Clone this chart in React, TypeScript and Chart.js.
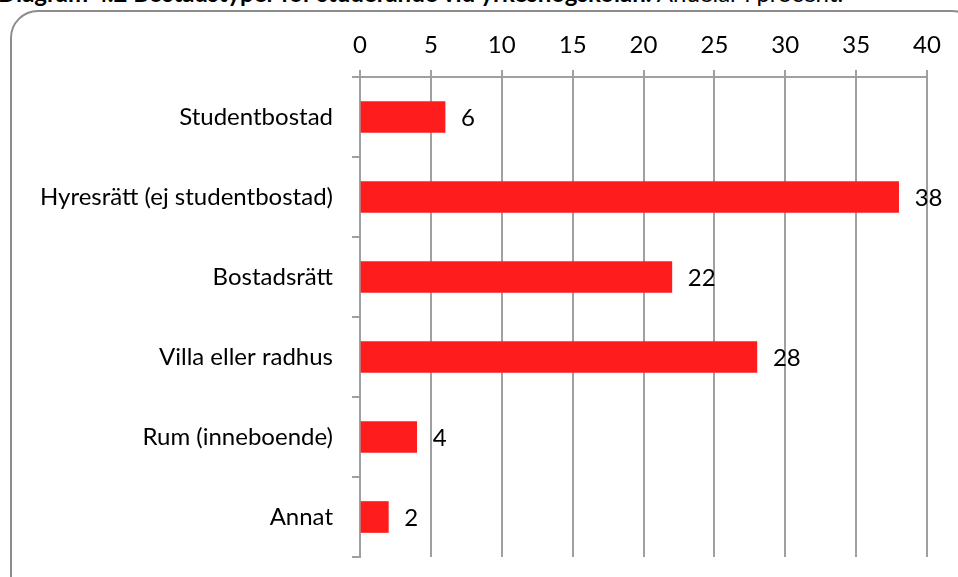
import React, { useEffect, useRef } from "react";
import { Chart, registerables } from "chart.js";

Chart.register(...registerables);

const categories = [
  "Studentbostad",
  "Hyresrätt (ej studentbostad)",
  "Bostadsrätt",
  "Villa eller radhus",
  "Rum (inneboende)",
  "Annat",
];
const values = [6, 38, 22, 28, 4, 2];
const xMin = 0;
const xMax = 40;
const xStep = 5;

const FONT = "Lato";
const FSIZE = 24;
const BAR = "#FF1C1C";
const GRID = "#a0a0a0";

const valueLabels = {
  id: "valueLabels",
  afterDatasetsDraw(chart: any) {
    const ctx = chart.ctx;
    const meta = chart.getDatasetMeta(0);
    ctx.save();
    ctx.font = `${FSIZE}px ${FONT}`;
    ctx.fillStyle = "#000";
    ctx.textAlign = "left";
    ctx.textBaseline = "middle";
    meta.data.forEach((el: any, i: number) => {
      ctx.fillText(String(values[i]), el.x + 16, el.y + 1);
    });
    ctx.restore();
  },
};

export default function App() {
  const ref = useRef<HTMLCanvasElement | null>(null);
  useEffect(() => {
    if (!ref.current) return;
    const chart = new Chart(ref.current, {
      type: "bar",
      data: {
        labels: categories,
        datasets: [
          {
            data: values,
            backgroundColor: BAR,
            borderWidth: 0,
            barThickness: 31,
          },
        ],
      },
      options: {
        indexAxis: "y",
        animation: false,
        responsive: false,
        maintainAspectRatio: false,
        layout: { padding: { left: 0, top: 0, right: 31, bottom: 20 } },
        plugins: {
          legend: { display: false },
          tooltip: { enabled: false },
          title: { display: false },
        },
        scales: {
          x: {
            position: "top",
            min: xMin,
            max: xMax,
            afterFit: (s: any) => {
              s.height = 77;
              s.paddingLeft = 0;
              s.paddingRight = 0;
            },
            ticks: {
              stepSize: xStep,
              color: "#000",
              font: { family: FONT, size: FSIZE },
              padding: 10,
              maxRotation: 0,
            },
            grid: {
              color: GRID,
              lineWidth: 2,
              tickLength: 7,
              drawOnChartArea: true,
            },
            border: { color: GRID, width: 2 },
          },
          y: {
            afterFit: (s: any) => {
              s.width = 360;
              s.paddingTop = 0;
              s.paddingBottom = 0;
            },
            ticks: {
              color: "#000",
              font: { family: FONT, size: FSIZE },
              padding: 19,
            },
            grid: {
              offset: true,
              drawOnChartArea: false,
              color: GRID,
              lineWidth: 2,
              tickLength: 8,
            },
            border: { color: GRID, width: 2 },
          },
        },
      },
      plugins: [valueLabels],
    });
    return () => chart.destroy();
  }, []);

  return (
    <div
      style={{
        position: "fixed",
        left: 0,
        top: 0,
        width: 958,
        height: 577,
        overflow: "hidden",
        background: "#fff",
      }}
    >
      <div
        style={{
          position: "absolute",
          left: -2,
          top: -22,
          whiteSpace: "nowrap",
          fontFamily: FONT,
          fontSize: 24,
          color: "#000",
        }}
      >
        <b>Diagram 4.2 Bostadstyper för studerande vid yrkeshögskolan.</b> Andelar i procent.
      </div>
      <div
        style={{
          position: "absolute",
          left: 10,
          top: 10,
          width: 970,
          height: 600,
          border: "2px solid #8c8c8c",
          borderRadius: 28,
          boxSizing: "border-box",
        }}
      />
      <canvas
        ref={ref}
        width={958}
        height={577}
        style={{ position: "absolute", left: 0, top: 0, width: 958, height: 577 }}
      />
    </div>
  );
}
